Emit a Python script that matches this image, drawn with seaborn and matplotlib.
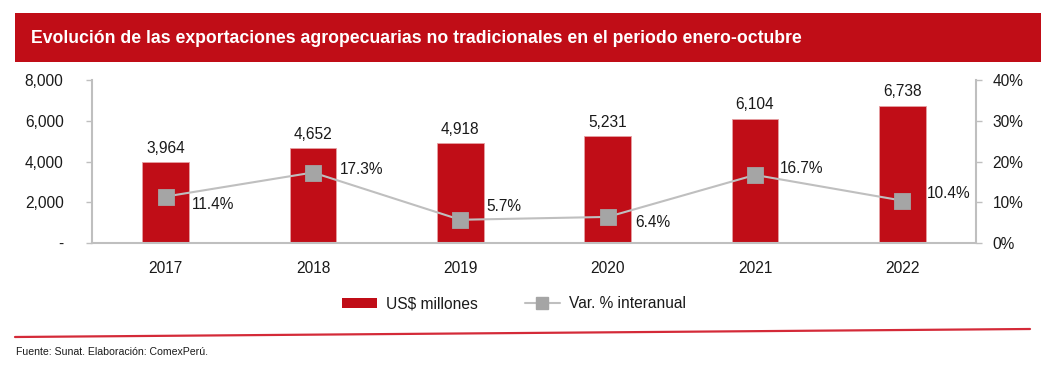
import matplotlib
matplotlib.use("Agg")
import matplotlib.pyplot as plt
from matplotlib.lines import Line2D
from matplotlib.patches import Patch, Rectangle
import seaborn as sns
import pandas as pd

years = ["2017", "2018", "2019", "2020", "2021", "2022"]
exports = [3964, 4652, 4918, 5231, 6104, 6738]
var_pct = [11.4, 17.3, 5.7, 6.4, 16.7, 10.4]
var_labels = ["11.4%", "17.3%", "5.7%", "6.4%", "16.7%", "10.4%"]
left_ticks = [0, 2000, 4000, 6000, 8000]
left_ticklabels = ["-", "2,000", "4,000", "6,000", "8,000"]
right_ticks = [0, 10, 20, 30, 40]
right_ticklabels = ["0%", "10%", "20%", "30%", "40%"]
title = "Evolución de las exportaciones agropecuarias no tradicionales en el periodo enero-octubre"
source = "Fuente: Sunat. Elaboración: ComexPerú."

RED = "#C00D17"
LINE_GRAY = "#BFBFBF"
MARK_GRAY = "#A5A5A5"
SPINE = "#BFBFBF"
TXT = "#1A1A1A"
FS = 11.2

sns.set_theme(style="white")
plt.rcParams["font.family"] = ["Liberation Sans", "DejaVu Sans"]

df = pd.DataFrame({"year": years, "exports": exports, "var": var_pct})

fig = plt.figure(figsize=(10.53, 3.68), dpi=100)
W, H = 1053, 368
ax = fig.add_axes([92 / W, 1 - 243 / H, (976 - 92) / W, (243 - 80) / H])

sns.barplot(data=df, x="year", y="exports", color=RED, width=0.315, ax=ax,
            saturation=1, edgecolor="#E5A0A3", linewidth=0.6)
ax.set_ylim(0, 8000)
ax.set_xlim(-0.5, 5.5)
ax.set_yticks(left_ticks)
ax.set_yticklabels(left_ticklabels)
ax.set_xlabel("")
ax.set_ylabel("")
for i, v in enumerate(exports):
    ax.annotate(f"{v:,}", (i, v), xytext=(0, 4.5), textcoords="offset points",
                ha="center", va="bottom", fontsize=FS, color=TXT)

ax2 = ax.twinx()
sns.pointplot(data=df, x="year", y="var", ax=ax2, color=LINE_GRAY, markers="s",
              linestyles="-")
for ln in ax2.lines:
    ln.set_color(LINE_GRAY)
    ln.set_linewidth(1.5)
    ln.set_markerfacecolor(MARK_GRAY)
    ln.set_markeredgecolor(MARK_GRAY)
    ln.set_markersize(10)
ax2.set_ylim(0, 40)
ax2.set_xlim(-0.5, 5.5)
ax2.set_yticks(right_ticks)
ax2.set_yticklabels(right_ticklabels)
ax2.set_ylabel("")
ax2.set_xlabel("")

offsets = [(19, -5.8), (19, 2), (18.5, 9.4), (19.5, -4.3), (18, 4.3), (18, 5)]
for i, (v, lab) in enumerate(zip(var_pct, var_labels)):
    ax2.annotate(lab, (i, v), xytext=offsets[i], textcoords="offset points",
                 ha="left", va="center", fontsize=FS, color=TXT)

for a in (ax, ax2):
    for s in a.spines.values():
        s.set_visible(False)
    a.grid(False)
ax.spines["left"].set_visible(True)
ax.spines["bottom"].set_visible(True)
ax2.spines["right"].set_visible(True)
for s in (ax.spines["left"], ax.spines["bottom"], ax2.spines["right"]):
    s.set_color(SPINE)
    s.set_linewidth(1.5)

ax.tick_params(axis="y", left=True, length=4, width=1, color=SPINE, labelsize=FS,
               labelcolor=TXT, pad=16.5)
ax.tick_params(axis="x", bottom=False, labelsize=FS, labelcolor=TXT, pad=7)
ax2.tick_params(axis="y", right=True, length=4, width=1, color=SPINE, labelsize=FS,
                labelcolor=TXT, pad=8)

# title banner
fig.patches.append(Rectangle((15 / W, 1 - 62 / H), (1041 - 15) / W, (62 - 13) / H,
                             transform=fig.transFigure, facecolor=RED, edgecolor="none"))
fig.text(31 / W, 1 - 38.5 / H, title, color="white", fontsize=12.7, fontweight="bold",
         ha="left", va="center")

# legend
handles = [Patch(facecolor=RED, edgecolor="none"),
           Line2D([0], [0], color=LINE_GRAY, lw=1.5, marker="s", markersize=8.6,
                  markerfacecolor=MARK_GRAY, markeredgecolor=MARK_GRAY)]
fig.legend(handles, ["US$ millones", "Var. % interanual"], loc="center",
           bbox_to_anchor=(514 / W, 1 - 304 / H), ncol=2, frameon=False,
           fontsize=FS, handlelength=2.25, handleheight=0.6, handletextpad=0.6,
           columnspacing=3.0, labelcolor=TXT)

# footer line
fig.add_artist(Line2D([15 / W, 1030 / W], [1 - 337 / H, 1 - 329 / H],
                      transform=fig.transFigure, color="#D42A38", lw=1.6))
fig.text(16 / W, 1 - 352 / H, source, fontsize=7.6, color=TXT, ha="left", va="center")

fig.savefig("out.png", dpi=100)
